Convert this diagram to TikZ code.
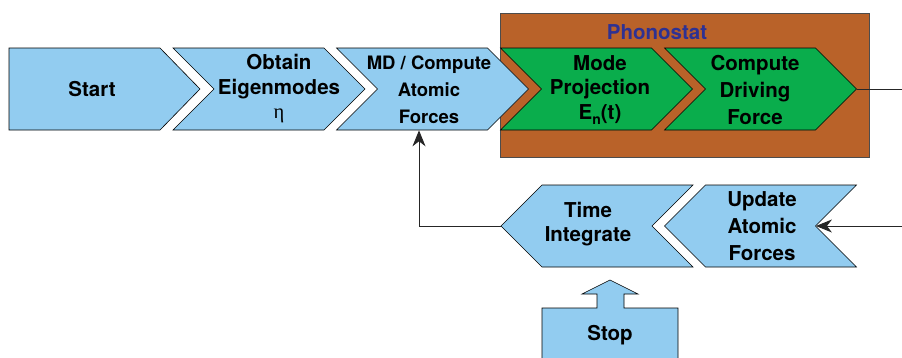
\documentclass[tikz,border=0pt]{standalone}
\usepackage{fontspec}
\setmainfont{TeX Gyre Heros}
\newfontfamily\etafont{Liberation Serif}
\usetikzlibrary{shapes.symbols,arrows.meta,calc}

\definecolor{stepblue}{RGB}{146,204,240}
\definecolor{stepgreen}{RGB}{10,173,76}
\definecolor{phonobrown}{RGB}{185,98,41}
\definecolor{phonoblue}{RGB}{46,49,146}

\begin{document}
\begin{tikzpicture}[x=1pt,y=-1pt,
  flow/.style={shape=signal, signal pointer angle=90, draw=black, line width=0.6pt,
    fill=stepblue, minimum height=82pt, minimum width=192pt, inner sep=0pt},
  flowgreen/.style={flow, fill=stepgreen},
  txt/.style={align=center, font=\bfseries\fontsize{20.5}{24.5}\selectfont},
  widetxt/.style={align=center, font=\bfseries\fontsize{20.5}{27}\selectfont},
  smalltxt/.style={align=center, font=\bfseries\fontsize{18.5}{27}\selectfont},
  link/.style={line width=0.9pt, draw=black!85}]
\useasboundingbox (0,0) rectangle (902,357);
\clip (0,0) rectangle (902,357);
%phonostat
\node[draw=black!70, line width=0.6pt, fill=phonobrown, minimum width=369pt,
  minimum height=144pt, inner sep=0pt] (phonostat) at (684.5,85) {};
\node[font=\bfseries\fontsize{20.5}{24}\selectfont, text=phonoblue] (phonotitle) at (657,32) {Phonostat};
%top row
\filldraw[fill=stepblue, draw=black, line width=0.6pt] (9,48) -- (160,48) -- (200,89)
  -- (160,130) -- (9,130) -- cycle;
\node[flow, signal from=west, signal to=east] (obtain) at (269,89) {};
\node[flow, signal from=west, signal to=east] (md) at (432.5,89) {};
\node[flowgreen, signal from=west, signal to=east] (mode) at (596.5,89) {};
\node[flowgreen, signal from=west, signal to=east] (drive) at (760.5,89) {};
\node[txt] (start) at (92,89) {Start};
\node[txt] (obtaintext) at (279,89) {Obtain\\Eigenmodes\\{\etafont\mdseries η}};
\node[smalltxt] (mdtext) at (429,90) {MD / Compute\\Atomic\\Forces};
\node[txt] (modetext) at (600,90) {Mode\\Projection\\E\raisebox{-5pt}{\fontsize{14}{14}\selectfont n}(t)};
\node[widetxt] (drivetext) at (755,90) {Compute\\Driving\\Force};
%bottom row
\node[flow, signal from=east, signal to=west] (update) at (760.5,226) {};
\node[flow, signal from=east, signal to=west] (timeint) at (597,226) {};
\node[widetxt] (updatetext) at (762,226) {Update\\Atomic\\Forces};
\node[txt] (timetext) at (588,224) {Time\\Integrate};
%stop
\filldraw[fill=stepblue, draw=black, line width=0.6pt] (542,380) |- (597,308) |- (582,294)
  -- (610,280) -- (638,294) -| (624,308) -| (678,380) -- cycle;
\node[txt] (stop) at (610,335) {Stop};
%links
\coordinate (outtop) at (902,89);
\coordinate (inbot) at (902,226);
\draw[link] (drive) -- (outtop);
\draw[link, -{Stealth[length=16pt,width=13pt,inset=5pt]}] (inbot) -- (update);
\draw[link, -{Stealth[length=16pt,width=13pt,inset=5pt]}] (timeint) -| ([xshift=-13.5pt]md.south);
\end{tikzpicture}
\end{document}
